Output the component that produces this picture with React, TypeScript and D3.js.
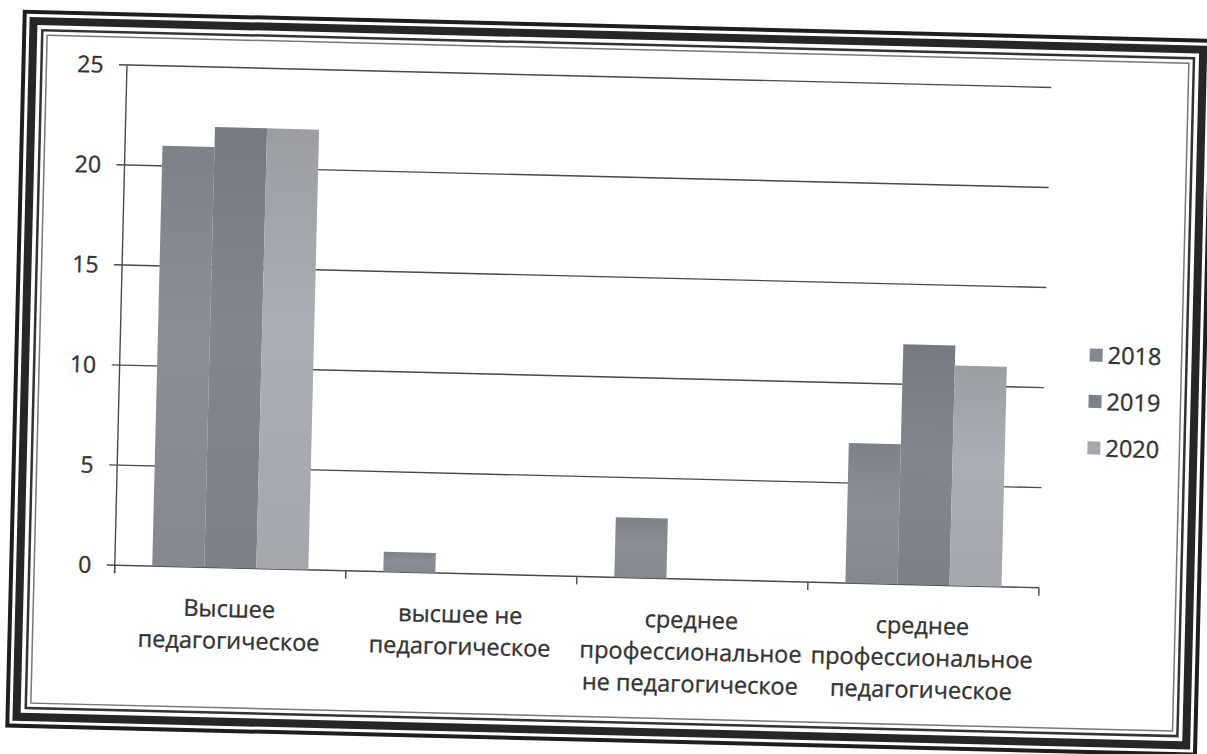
import { useEffect } from "react"
import * as d3 from "d3"

// категории (строки подписей оси X)
const categories = [
  "Высшее педагогическое",
  "высшее не педагогическое",
  "среднее профессиональное не педагогическое",
  "среднее профессиональное педагогическое",
]
const categoryLines = [
  ["Высшее", "педагогическое"],
  ["высшее не", "педагогическое"],
  ["среднее", "профессиональное", "не педагогическое"],
  ["среднее", "профессиональное", "педагогическое"],
]
const years = ["2018", "2019", "2020"]
const values2018 = [21, 1, 3, 7]
const values2019 = [22, 0, 0, 12]
const values2020 = [22, 0, 0, 11]
const yTicks = [0, 5, 10, 15, 20, 25]

const seriesValues = [values2018, values2019, values2020]
const colors = ["#85888f", "#7d8088", "#a5a7ad"]

const W = 1207
const H = 754
const plotLeft = 119.5
const plotRight = 1044
const plotTop = 76.6
const plotBottom = 577
const textColor = "#333"
const font = "'Open Sans', sans-serif"

export default function App() {
  useEffect(() => {
    document.body.style.margin = "0"
  }, [])

  const x = d3.scaleBand<string>().domain(categories).range([plotLeft, plotRight])
  const xs = d3.scaleBand<string>().domain(years).range([0, x.bandwidth()]).paddingInner(0).paddingOuter(0.72)
  const y = d3.scaleLinear().domain([0, 25]).range([plotBottom, plotTop])

  const boundaries = [...categories.map(c => x(c) as number), plotRight]
  const textProps = { fontFamily: font, fill: textColor, stroke: textColor, strokeWidth: 0.35 }

  return (
    <svg width={W} height={H} style={{ display: "block", background: "#fff" }}>
      <defs>
        {colors.map((c, i) => (
          <linearGradient key={i} id={`bar${i}`} x1="0" y1="0" x2="0" y2="1">
            <stop offset="0%" stopColor={d3.color(c)!.darker(0.15).toString()} />
            <stop offset="45%" stopColor={d3.color(c)!.brighter(0.12).toString()} />
            <stop offset="100%" stopColor={c} />
          </linearGradient>
        ))}
      </defs>
      <g transform={`rotate(1.4 603 377)`}>
        {/* рамка */}
        <rect x={16} y={26} width={1188} height={714} fill="none" stroke="#1e1e1e" strokeWidth={4} />
        <rect x={25} y={35} width={1170} height={696} fill="none" stroke="#262626" strokeWidth={8} />
        <rect x={34} y={44} width={1152} height={678} fill="none" stroke="#333" strokeWidth={2.5} />
        <rect x={39} y={49} width={1142} height={668} fill="none" stroke="#777" strokeWidth={1.5} />

        {/* сетка */}
        {yTicks.map(t => (
          <line key={t} x1={plotLeft - 8} x2={plotRight} y1={y(t)} y2={y(t)}
            stroke="#4a4a4a" strokeWidth={1.4} />
        ))}
        {yTicks.map(t => (
          <text key={"l" + t} x={96} y={y(t)} dy="0.36em" textAnchor="end" fontSize={23} {...textProps}>{t}</text>
        ))}
        <line x1={plotLeft} x2={plotLeft} y1={plotTop} y2={plotBottom + 8} stroke="#4a4a4a" strokeWidth={1.4} />
        {boundaries.map((b, i) => (
          <line key={"t" + i} x1={b} x2={b} y1={plotBottom} y2={plotBottom + 8} stroke="#4a4a4a" strokeWidth={1.4} />
        ))}

        {/* столбцы */}
        {seriesValues.map((vals, si) =>
          vals.map((v, ci) => v > 0 && (
            <rect key={`${si}-${ci}`}
              x={(x(categories[ci]) as number) + (xs(years[si]) as number)}
              y={y(v)}
              width={xs.bandwidth()}
              height={y(0) - y(v)}
              fill={`url(#bar${si})`} />
          ))
        )}

        {/* подписи категорий */}
        {categoryLines.map((lines, ci) => (
          <text key={"c" + ci} textAnchor="middle" fontSize={23.5} {...textProps}>
            {lines.map((ln, li) => (
              <tspan key={li} x={(x(categories[ci]) as number) + x.bandwidth() / 2} y={626 + li * 32}>{ln}</tspan>
            ))}
          </text>
        ))}

        {/* легенда */}
        {years.map((yr, i) => (
          <g key={yr} transform={`translate(1089,${343 + i * 46.5})`}>
            <rect x={0} y={-6.5} width={13} height={13} fill={colors[i]} />
            <text x={18} y={0} dy="0.36em" fontSize={23.5} {...textProps}>{yr}</text>
          </g>
        ))}
      </g>
    </svg>
  )
}
